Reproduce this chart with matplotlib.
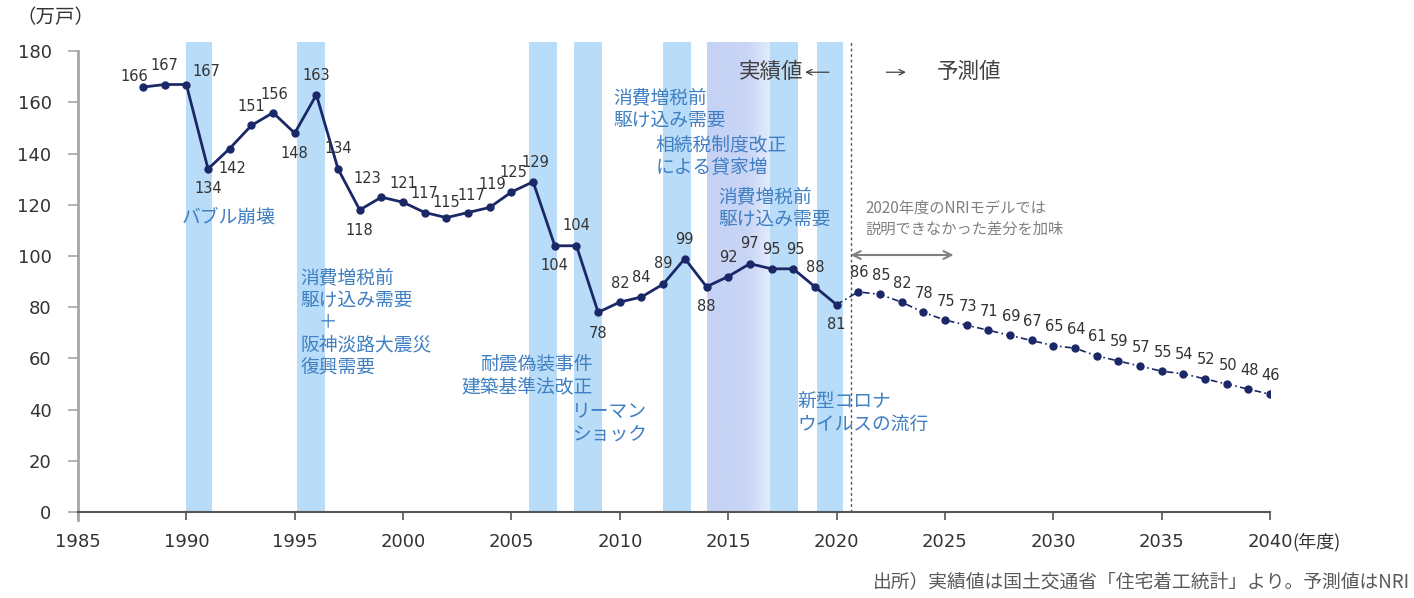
import numpy as np
import matplotlib.pyplot as plt
from matplotlib.colors import LinearSegmentedColormap

plt.rcParams['font.family'] = ['DejaVu Sans', 'Noto Sans CJK JP']
JP = ['Noto Sans CJK JP', 'DejaVu Sans']

# 新設住宅着工戸数（万戸）
years_actual = list(range(1988, 2021))
starts_actual = [166, 167, 167, 134, 142, 151, 156, 148, 163, 134, 118, 123, 121,
                 117, 115, 117, 119, 125, 129, 104, 104, 78, 82, 84, 89, 99, 88,
                 92, 97, 95, 95, 88, 81]
years_forecast = list(range(2021, 2041))
starts_forecast = [86, 85, 82, 78, 75, 73, 71, 69, 67, 65, 64, 61, 59, 57, 55,
                   54, 52, 50, 48, 46]

# 網掛けする期間（年度）
event_spans = [(1990.0, 1991.2), (1995.1, 1996.4), (2005.8, 2007.1),
               (2007.9, 2009.2), (2012.0, 2013.3), (2016.9, 2018.2),
               (2019.1, 2020.3)]
lavender_span = (2014.0, 2016.9)
boundary_year = 2020.65

# ラベル位置の微調整（px: 右, 下）
label_shift = {1988: (-9, -11), 1990: (20, -13), 1991: (0, 20), 1992: (3, 20),
               1994: (1, -18), 1995: (0, 20), 1997: (0, -20), 1998: (0, 21),
               1999: (-14, -19), 2002: (0, -15), 2003: (3, -17), 2004: (3, -23),
               2005: (2, -20), 2006: (2, -19), 2007: (0, 20), 2008: (0, -20),
               2009: (0, 21), 2012: (0, -21), 2014: (0, 20), 2016: (0, -20),
               2018: (2, -19), 2020: (0, 20)}

navy = '#1b2868'
bar_blue = '#b9dcf8'
note_blue = '#3f7fc2'
top = 183.5

fig = plt.figure(figsize=(14.14, 5.98), dpi=100)
ax = fig.add_axes([78 / 1414, 1 - 512 / 598, 1192 / 1414, 471 / 598])

for x0, x1 in event_spans:
    ax.bar((x0 + x1) / 2, top, width=x1 - x0, color=bar_blue, zorder=0)

cmap = LinearSegmentedColormap.from_list(
    'lav', [(0, '#c6d2f5'), (0.65, '#c9d5f5'), (1, '#e2ebfc')])
ax.imshow(np.linspace(0, 1, 100).reshape(1, -1), cmap=cmap, aspect='auto',
          extent=[lavender_span[0], lavender_span[1], 0, top], zorder=0)

ax.axvline(boundary_year, ymax=top / 184, color='#555555', lw=1.0,
           ls=(0, (2, 2)), zorder=1)

ax.plot(years_actual, starts_actual, color=navy, lw=2, marker='o', ms=5, zorder=3)
ax.plot([years_actual[-1]] + years_forecast, [starts_actual[-1]] + starts_forecast,
        color=navy, lw=1.2, ls=(0, (4, 2, 1, 2)), zorder=3)
ax.plot(years_forecast, starts_forecast, ls='none', color=navy, marker='o',
        ms=5, zorder=3)

for yr, v in zip(years_actual + years_forecast, starts_actual + starts_forecast):
    dx, dy = label_shift.get(yr, (1, -19) if yr > 2020 else (0, -19))
    ax.annotate(str(v), (yr, v), xytext=(dx * 0.72, -dy * 0.72),
                textcoords='offset points', ha='center', va='center',
                fontsize=10.5, color='#333333', zorder=4)

ax.set_xlim(1985, 2040)
ax.set_ylim(0, 184)
ax.set_xticks(range(1985, 2041, 5))
ax.set_yticks(range(0, 181, 20))
ax.tick_params(axis='y', length=7, width=1.2, color='#a6a6a6', pad=12,
               labelsize=13, labelcolor='#333333')
ax.tick_params(axis='x', length=6, width=1.2, color='#555555', pad=9,
               labelsize=13, labelcolor='#333333')
for s in ('top', 'right'):
    ax.spines[s].set_visible(False)
ax.spines['left'].set_color('#a6a6a6')
ax.spines['left'].set_linewidth(2)
ax.spines['left'].set_bounds(-3, 180)
ax.spines['bottom'].set_color('#555555')
ax.spines['bottom'].set_linewidth(1.5)

ax.annotate('(年度)', (2040, 0), xytext=(16, -22), textcoords='offset points',
            ha='left', va='center', fontsize=13, color='#333333', family=JP,
            annotation_clip=False)
fig.text(0.012, 1 - 18 / 598, '（万戸）', ha='left', va='center', fontsize=14,
         color='#333333', family=JP)

notes = [
    (1989.8, 115.2, 'バブル崩壊', 'left'),
    (1995.25, 74, '消費増税前\n駆け込み需要\n　＋\n阪神淡路大震災\n復興需要', 'left'),
    (2008.74, 53.5, '耐震偽装事件\n建築基準法改正', 'right'),
    (2007.8, 34.8, 'リーマン\nショック', 'left'),
    (2009.7, 157.4, '消費増税前\n駆け込み需要', 'left'),
    (2011.65, 139, '相続税制度改正\nによる貸家増', 'left'),
    (2014.56, 118.9, '消費増税前\n駆け込み需要', 'left'),
    (2018.2, 38.6, '新型コロナ\nウイルスの流行', 'left'),
]
for x, y, s, ha in notes:
    ax.text(x, y, s, ha=ha, va='center', multialignment=ha, fontsize=13.5,
            color=note_blue, family=JP, linespacing=1.1, zorder=4)

ax.text(2018.45, 171.8, '実績値', ha='right', va='center', fontsize=15.5,
        color='#404040', family=JP, zorder=4)
ax.annotate('', xy=(2018.55, 171.8), xytext=(2019.65, 171.8),
            arrowprops=dict(arrowstyle='->', lw=0.9, color='#404040',
                            shrinkA=0, shrinkB=0))
ax.annotate('', xy=(2023.2, 171.8), xytext=(2022.3, 171.8),
            arrowprops=dict(arrowstyle='->', lw=0.9, color='#404040',
                            shrinkA=0, shrinkB=0))
ax.text(2024.65, 171.8, '予測値', ha='left', va='center', fontsize=15.5,
        color='#404040', family=JP)

ax.text(2021.35, 114.6, '2020年度のNRIモデルでは\n説明できなかった差分を加味',
        ha='left', va='center', fontsize=11, color='#808080', family=JP,
        linespacing=1.3)
ax.annotate('', xy=(boundary_year, 100.4), xytext=(2025.4, 100.4),
            arrowprops=dict(arrowstyle='<->', lw=1.5, color='#808080',
                            shrinkA=0, shrinkB=0, mutation_scale=14))

fig.text(0.997, 1 - 582 / 598, '出所）実績値は国土交通省「住宅着工統計」より。予測値はNRI',
         ha='right', va='center', fontsize=13.5, color='#595959', family=JP)

fig.savefig('out.png', dpi=100)
